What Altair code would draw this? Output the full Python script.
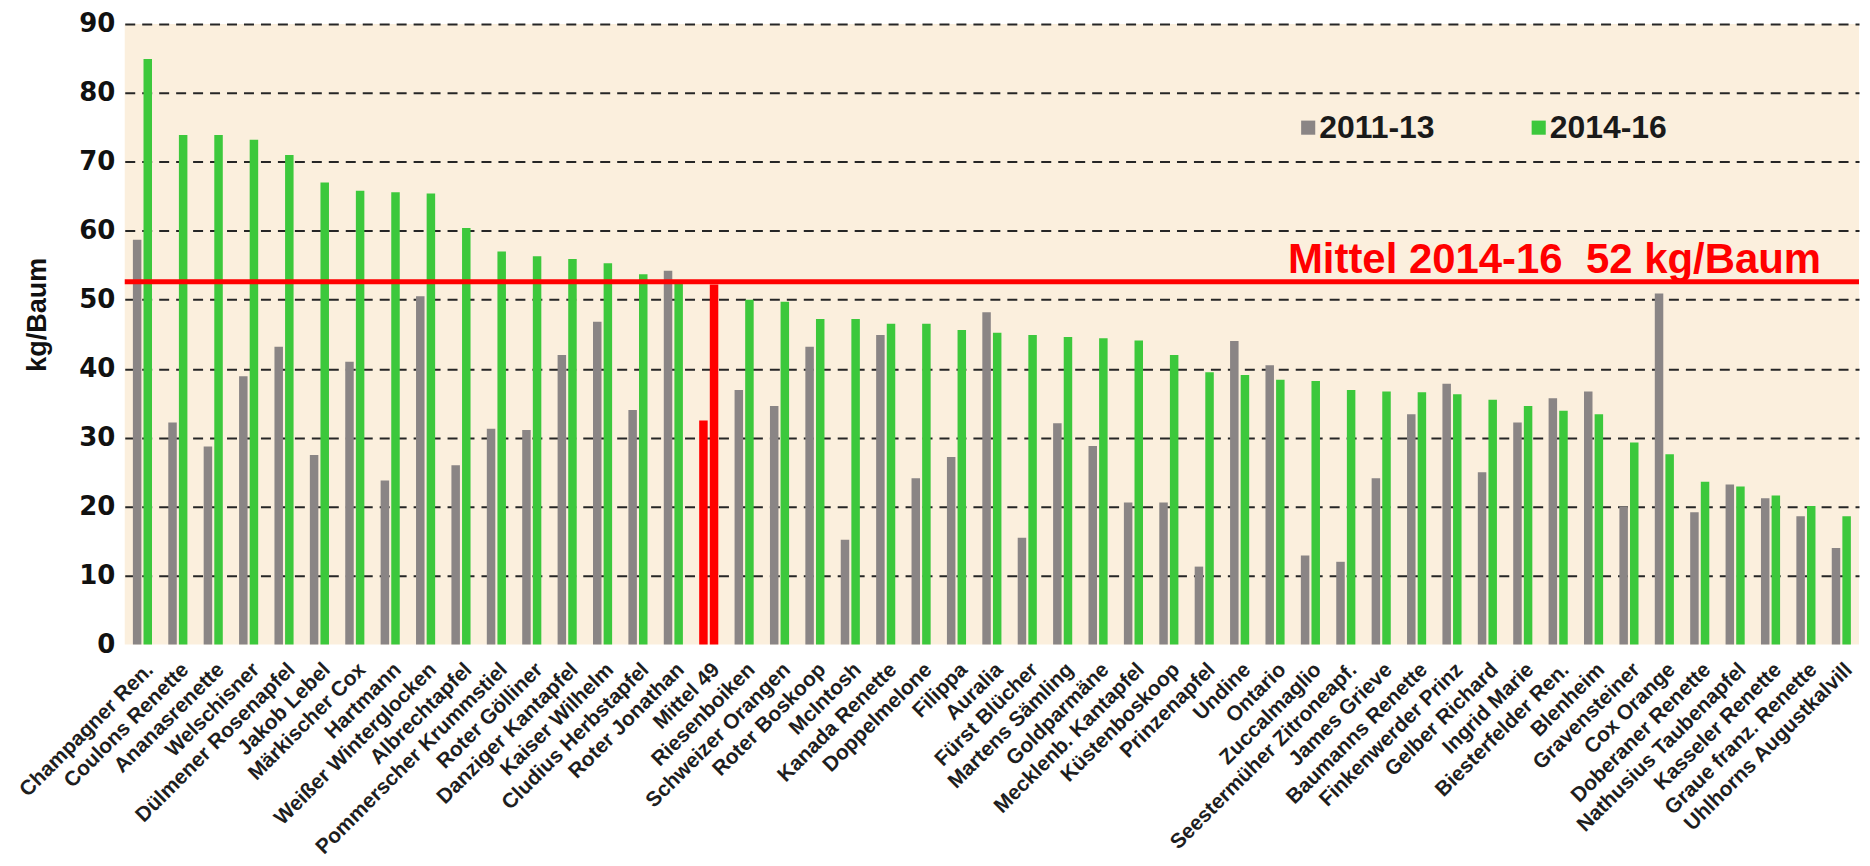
import altair as alt
import pandas as pd

varieties = [
    "Champagner Ren.", "Coulons Renette", "Ananasrenette", "Welschisner",
    "Dülmener Rosenapfel", "Jakob Lebel", "Märkischer Cox", "Hartmann",
    "Weißer Winterglocken", "Albrechtapfel", "Pommerscher Krummstiel",
    "Roter Gölliner", "Danziger Kantapfel", "Kaiser Wilhelm",
    "Cludius Herbstapfel", "Roter Jonathan", "Mittel 49", "Riesenboiken",
    "Schweizer Orangen", "Roter Boskoop", "McIntosh", "Kanada Renette",
    "Doppelmelone", "Filippa", "Auralia", "Fürst Blücher", "Martens Sämling",
    "Goldparmäne", "Mecklenb. Kantapfel", "Küstenboskoop", "Prinzenapfel",
    "Undine", "Ontario", "Zuccalmaglio", "Seestermüher Zitroneapf.",
    "James Grieve", "Baumanns Renette", "Finkenwerder Prinz", "Gelber Richard",
    "Ingrid Marie", "Biesterfelder Ren.", "Blenheim", "Gravensteiner",
    "Cox Orange", "Doberaner Renette", "Nathusius Taubenapfel",
    "Kasseler Renette", "Graue franz. Renette", "Uhlhorns Augustkalvill",
]

yield_2011_13 = [
    58.7, 32.2, 28.7, 38.9, 43.2, 27.5, 41.0, 23.8, 50.5, 26.0,
    31.3, 31.1, 42.0, 46.8, 34.0, 54.2, 32.5, 36.9, 34.6, 43.2,
    15.2, 44.9, 24.1, 27.2, 48.2, 15.5, 32.1, 28.8, 20.6, 20.6,
    11.3, 44.0, 40.5, 12.9, 12.0, 24.1, 33.4, 37.8, 25.0, 32.2,
    35.7, 36.7, 20.0, 50.9, 19.2, 23.2, 21.2, 18.6, 14.0,
]

yield_2014_16 = [
    84.9, 73.9, 73.9, 73.2, 71.0, 67.0, 65.8, 65.6, 65.4, 60.4,
    57.0, 56.3, 55.9, 55.3, 53.7, 52.6, 52.2, 50.0, 49.7, 47.2,
    47.2, 46.5, 46.5, 45.6, 45.2, 44.9, 44.6, 44.4, 44.1, 42.0,
    39.5, 39.1, 38.4, 38.2, 36.9, 36.7, 36.6, 36.3, 35.5, 34.6,
    33.9, 33.4, 29.3, 27.6, 23.6, 22.9, 21.6, 20.1, 18.6,
]

series_names = ["2011-13", "2014-16"]
series_colors = ["#8a8585", "#3cc83c"]
mean_variety = "Mittel 49"
mean_value = [52.6]
mean_label = ["Mittel 2014-16\u00a0 52 kg/Baum"]
y_ticks = [0, 10, 20, 30, 40, 50, 60, 70, 80, 90]

rows = []
for v, a, b in zip(varieties, yield_2011_13, yield_2014_16):
    rows.append({"Sorte": v, "Zeitraum": series_names[0], "kg": a})
    rows.append({"Sorte": v, "Zeitraum": series_names[1], "kg": b})
df = pd.DataFrame(rows)
mean_df = pd.DataFrame({"m": mean_value, "label": mean_label})

FONT = "Liberation Sans"
W = 1738
H = 622

y_scale = alt.Scale(domain=[0, 90], nice=False, zero=True)

bars = alt.Chart(df).mark_bar().encode(
    x=alt.X(
        "Sorte:N",
        sort=varieties,
        scale=alt.Scale(paddingInner=0.46, paddingOuter=0.23),
        axis=alt.Axis(
            title=None, labelAngle=-45, labelFontSize=21, labelFontWeight="bold",
            labelColor="#1e1e1e", labelFont=FONT, ticks=False, domain=False,
            labelPadding=14, labelOverlap=False, labelLimit=400,
        ),
    ),
    xOffset=alt.XOffset(
        "Zeitraum:N", sort=series_names,
        scale=alt.Scale(paddingInner=0.2, paddingOuter=0),
    ),
    y=alt.Y(
        "kg:Q",
        scale=y_scale,
        axis=alt.Axis(
            title="kg/Baum", values=y_ticks, labelFontSize=26, labelFontWeight="bold",
            labelColor="#111111", labelFont="DejaVu Sans", ticks=False, domain=False,
            labelPadding=10, titleFontSize=27, titleFontWeight="bold",
            titleFont=FONT, titleColor="#111111", titleX=-87, titleY=291,
            titleAngle=-90, titleAlign="center", titleBaseline="middle",
            grid=True, gridColor="#262626", gridWidth=2, gridDash=[10, 7],
            gridOpacity=alt.expr("datum.value == 0 ? 0 : 1"),
        ),
    ),
    color=alt.condition(
        alt.datum.Sorte == mean_variety,
        alt.value("#ff0000"),
        alt.Color(
            "Zeitraum:N",
            scale=alt.Scale(domain=series_names, range=series_colors),
            legend=alt.Legend(
                title=None, orient="none", legendX=1170, legendY=88,
                direction="horizontal", symbolType="square", symbolSize=200,
                symbolStrokeWidth=0, symbolOpacity=1, labelFontSize=32,
                labelFontWeight="bold", labelFont=FONT, labelColor="#1a1a1a",
                columnPadding=88, labelOffset=alt.expr("-5"), padding=0,
            ),
        ),
    ),
)

rule = alt.Chart(mean_df).mark_rule(color="#ff0000", strokeWidth=5).encode(
    y=alt.Y("m:Q", scale=y_scale)
)

label = alt.Chart(mean_df).mark_text(
    color="#ff0000", font=FONT, fontSize=42, fontWeight="bold",
    align="right", baseline="alphabetic", dy=-9,
).encode(
    y=alt.Y("m:Q", scale=y_scale),
    x=alt.value(1700),
    text="label:N",
)

chart = (
    alt.layer(bars, rule, label)
    .properties(
        width=W, height=H,
        padding={"left": 7, "top": 2, "right": 0, "bottom": 2},
        background="#ffffff",
    )
    .configure_view(fill="#fbefdd", strokeWidth=0)
)

chart.save("out.html", embed_options={"renderer": "svg", "actions": False})
